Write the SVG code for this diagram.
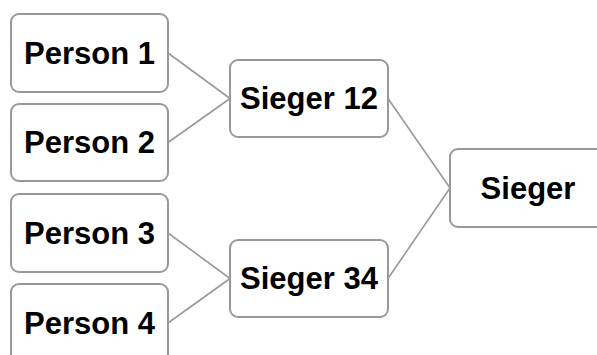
<svg xmlns="http://www.w3.org/2000/svg" width="597" height="355" viewBox="0 0 597 355">
<style>
.box{fill:#fff;stroke:#999;stroke-width:2}
.lbl{font-family:"Liberation Sans",Arial,sans-serif;font-weight:bold;font-size:31px;fill:#000;text-anchor:middle}
.con{stroke:#999;stroke-width:1.6;fill:none}
</style>
<rect width="597" height="355" fill="#fff"/>
<g id="connectors">
<line class="con" x1="168" y1="53" x2="230" y2="98.5"/>
<line class="con" x1="168" y1="142.5" x2="230" y2="98.5"/>
<line class="con" x1="168" y1="233" x2="230" y2="278.5"/>
<line class="con" x1="168" y1="323" x2="230" y2="278.5"/>
<line class="con" x1="388" y1="98.5" x2="450" y2="188"/>
<line class="con" x1="388" y1="278.5" x2="450" y2="188"/>
</g>
<g id="person1"><rect class="box" x="11" y="14" width="157" height="78" rx="8"/><text class="lbl" x="89.5" y="63.5">Person 1</text></g>
<g id="person2"><rect class="box" x="11" y="104" width="157" height="77" rx="8"/><text class="lbl" x="89.5" y="153">Person 2</text></g>
<g id="person3"><rect class="box" x="11" y="194" width="157" height="78" rx="8"/><text class="lbl" x="89.5" y="243.5">Person 3</text></g>
<g id="person4"><rect class="box" x="11" y="284" width="157" height="78" rx="8"/><text class="lbl" x="89.5" y="333.5">Person 4</text></g>
<g id="sieger12"><rect class="box" x="230" y="60" width="158" height="77" rx="8"/><text class="lbl" x="309" y="109">Sieger 12</text></g>
<g id="sieger34"><rect class="box" x="230" y="240" width="158" height="77" rx="8"/><text class="lbl" x="309" y="289">Sieger 34</text></g>
<g id="sieger"><rect class="box" x="450" y="149" width="158" height="78" rx="8"/><text class="lbl" x="528" y="198.5">Sieger</text></g>
</svg>
